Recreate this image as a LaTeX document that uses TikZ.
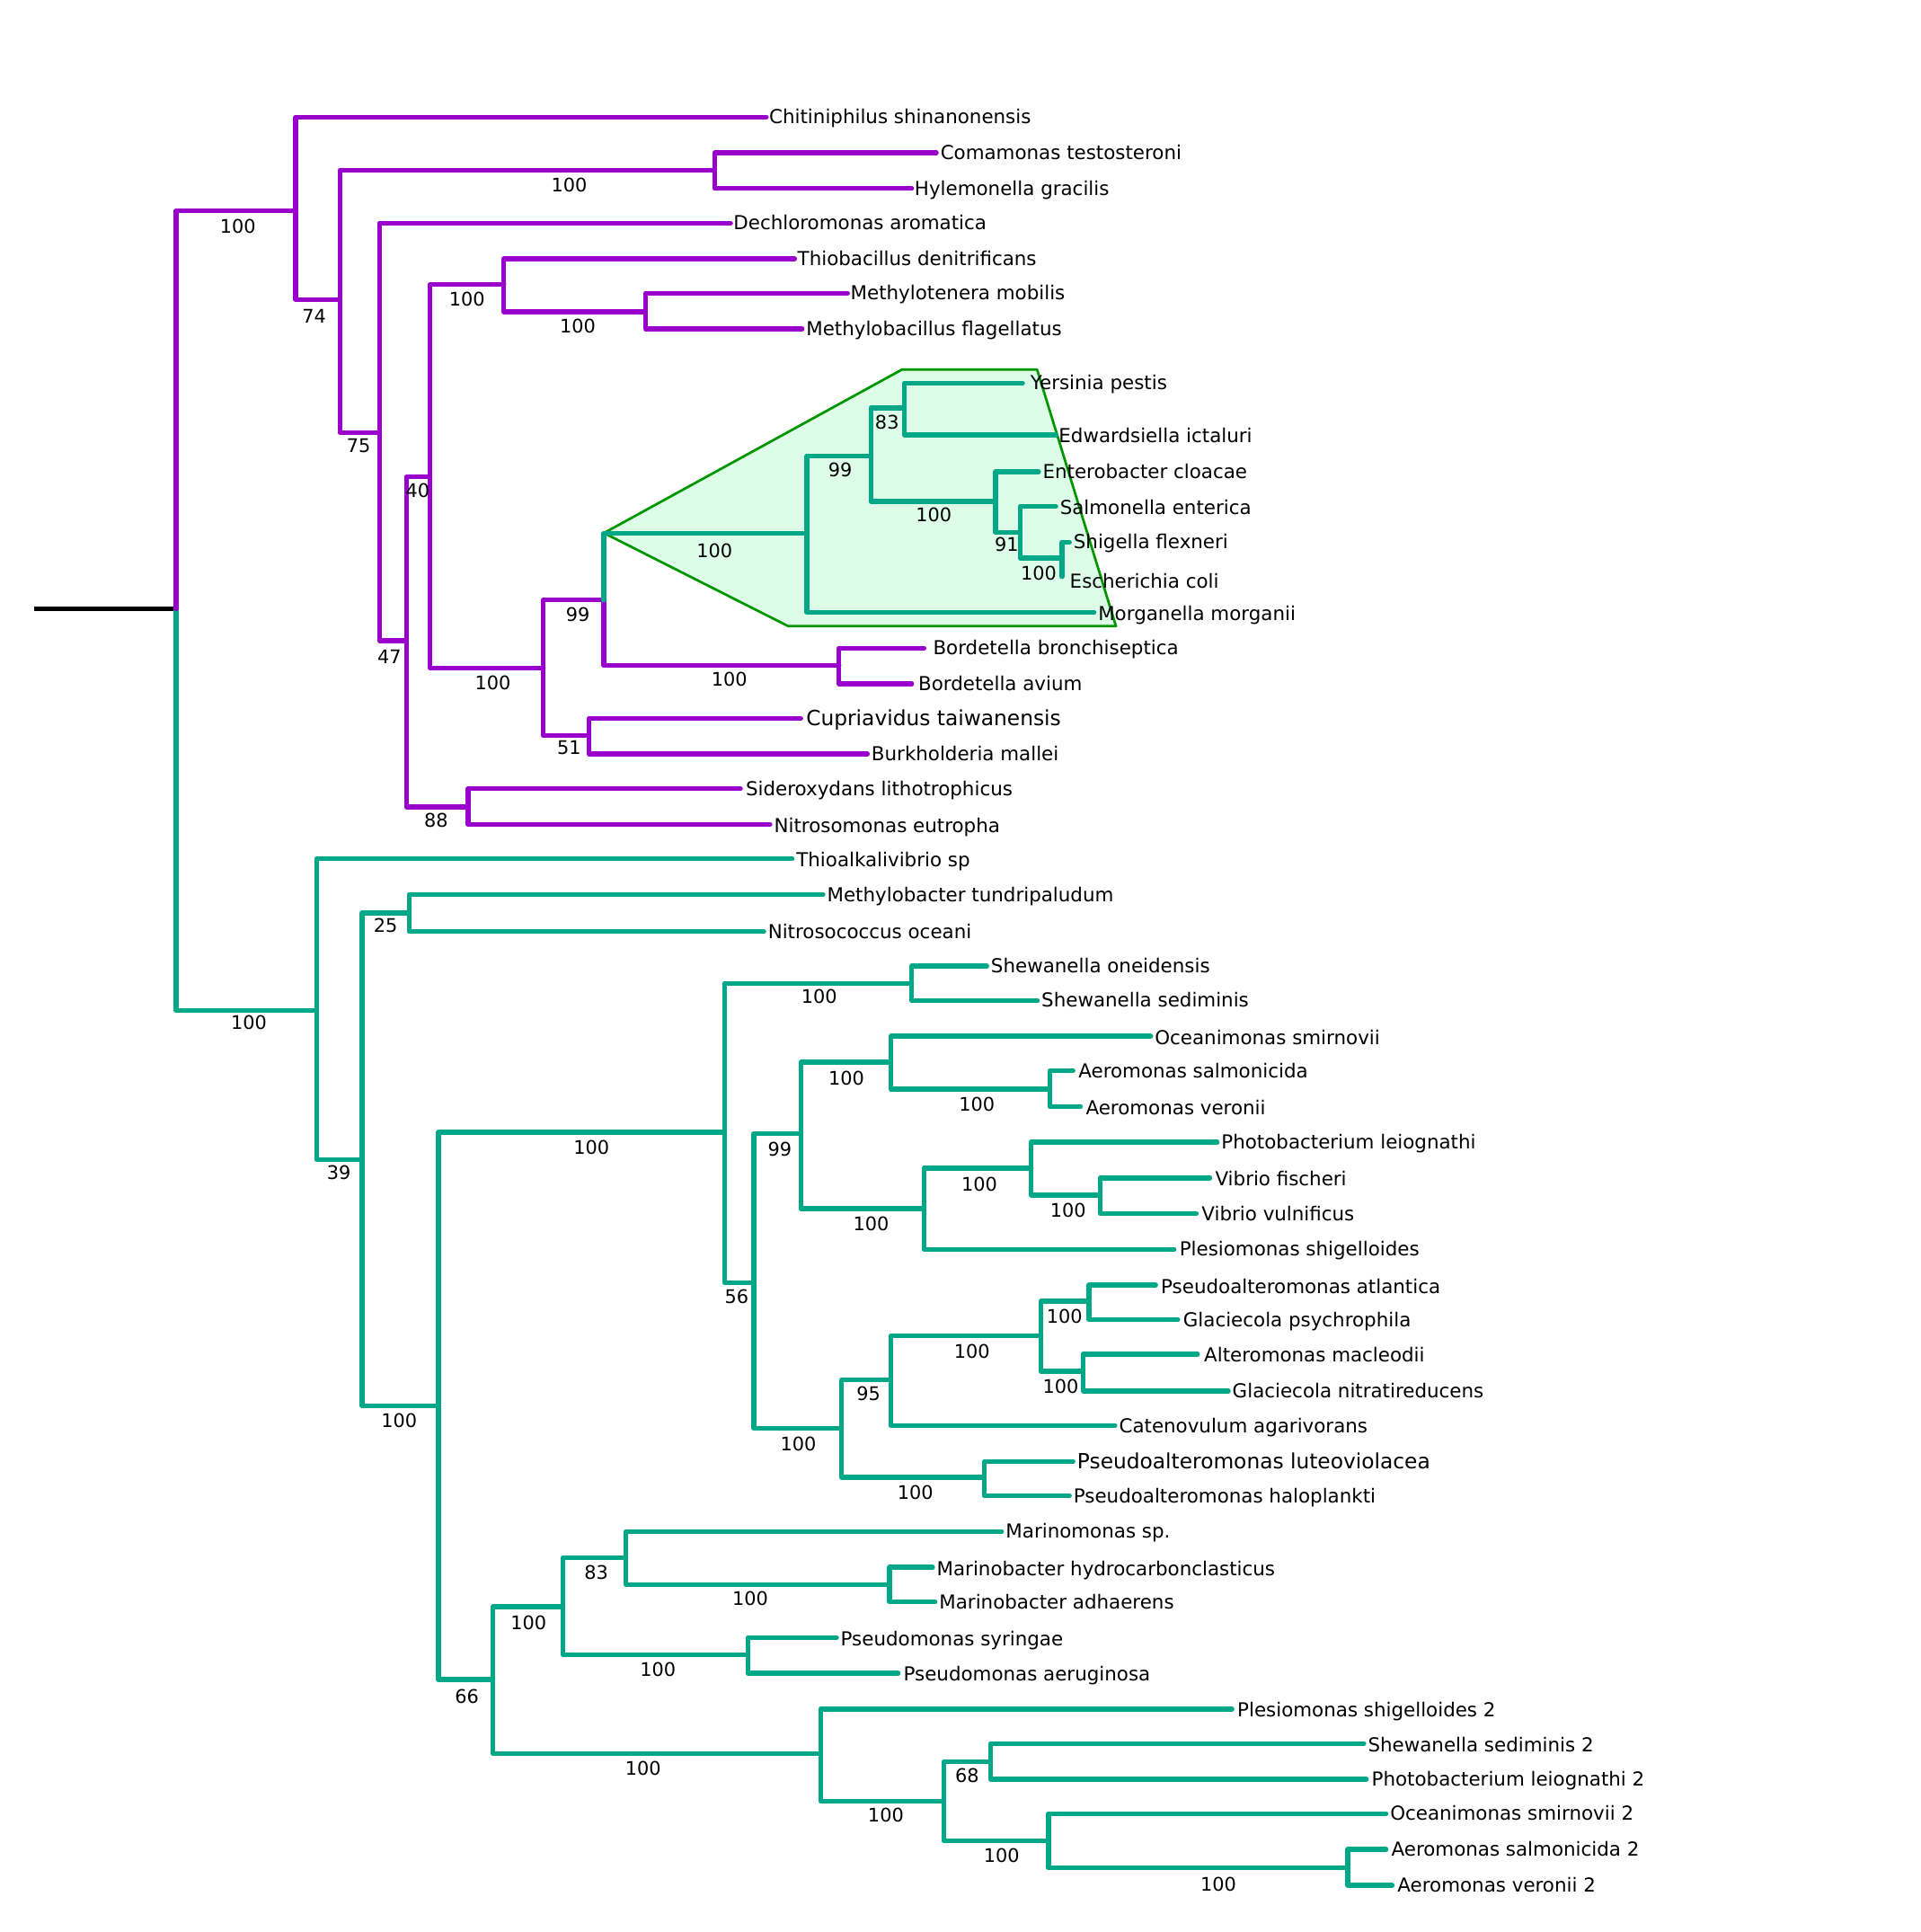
\documentclass[tikz,border=0pt]{standalone}
\usepackage{fontspec}
\setmainfont{DejaVu Sans}
\definecolor{pur}{RGB}{153,0,204}
\definecolor{tea}{RGB}{0,168,136}
\definecolor{hlfill}{RGB}{222,253,232}
\definecolor{hledge}{RGB}{0,150,0}
\begin{document}
\begin{tikzpicture}[x=0.5pt,y=-0.5pt,
 pb/.style={draw=pur,line width=1.95pt,line cap=round,line join=round},
 tb/.style={draw=tea,line width=1.95pt,line cap=round,line join=round},
 tip/.style={anchor=base west,inner sep=0pt,yshift=-2.75pt,font=\fontsize{7.8}{9}\selectfont},
 big/.style={anchor=base west,inner sep=0pt,yshift=-3pt,font=\fontsize{8.5}{10}\selectfont},
 bs/.style={anchor=center,inner sep=0pt,font=\fontsize{7.6}{9}\selectfont}]
\useasboundingbox (0,0) rectangle (1559,1568);
% highlight
\filldraw[fill=hlfill,draw=hledge,line width=1pt,line join=round]
  (490.2,432.6) -- (732,300) -- (841.8,300) -- (905.8,508.2) -- (639.8,508.2) -- cycle;
% ---------- coordinates ----------
\coordinate (root) at (143,494);
\coordinate (rootL) at (28,494);
\coordinate (P1) at (240,171);
\coordinate (Chit) at (622,95);
\coordinate (P2) at (276,243);
\coordinate (P3) at (580,138);
\coordinate (Coma) at (760,124);
\coordinate (Hyle) at (740,153);
\coordinate (P4) at (308,351);
\coordinate (Dech) at (593,181);
\coordinate (P5) at (330,520);
\coordinate (P6) at (349,387);
\coordinate (P7) at (409,231);
\coordinate (Thio) at (645,210);
\coordinate (P8) at (524,253);
\coordinate (Mlot) at (688,238);
\coordinate (Mbac) at (651,267);
\coordinate (P9) at (441,542);
\coordinate (P10) at (490,487);
\coordinate (E1) at (655,433);
\coordinate (E2) at (707,370);
\coordinate (E3) at (734,331);
\coordinate (Yers) at (830,311);
\coordinate (Edwa) at (857,353);
\coordinate (E4) at (808,407);
\coordinate (Ente) at (843,383);
\coordinate (E5) at (828,432);
\coordinate (Salm) at (857,411);
\coordinate (E6) at (862,453);
\coordinate (Shig) at (868,440);
\coordinate (Esch) at (862,468);
\coordinate (Morg) at (888,497);
\coordinate (P11) at (681,540);
\coordinate (Bbro) at (750,526);
\coordinate (Bavi) at (740,555);
\coordinate (P12) at (478,597);
\coordinate (Cupr) at (650,583);
\coordinate (Burk) at (704,612);
\coordinate (P13) at (380,655);
\coordinate (Side) at (601,640);
\coordinate (Nitm) at (625,669);
\coordinate (T1) at (257,820);
\coordinate (Thal) at (643,697);
\coordinate (T2) at (294,941);
\coordinate (T3) at (332,741);
\coordinate (Metb) at (668,726);
\coordinate (Nitc) at (620,756);
\coordinate (T4) at (356,1141);
\coordinate (T5) at (588,919);
\coordinate (T6) at (740,798);
\coordinate (Shon) at (801,784);
\coordinate (Shse) at (842,812);
\coordinate (T7) at (612,1041);
\coordinate (T8) at (650,920);
\coordinate (T9) at (723,862);
\coordinate (Ocsm) at (934,841);
\coordinate (T10) at (852,884);
\coordinate (Aesa) at (871,869);
\coordinate (Aeve) at (877,898);
\coordinate (T11) at (750,981);
\coordinate (T12) at (837,948);
\coordinate (Phle) at (988,927);
\coordinate (T13) at (893,970);
\coordinate (Vifi) at (982,956);
\coordinate (Vivu) at (971,985);
\coordinate (Plsh) at (953,1014);
\coordinate (T14) at (683,1159);
\coordinate (T15) at (723,1120);
\coordinate (T16) at (845,1084);
\coordinate (T17) at (884,1056);
\coordinate (Psat) at (938,1043);
\coordinate (Glps) at (956,1071);
\coordinate (T18) at (879,1113);
\coordinate (Alma) at (972,1099);
\coordinate (Glni) at (997,1129);
\coordinate (Cata) at (905,1157);
\coordinate (T19) at (799,1199);
\coordinate (Pslu) at (871,1186);
\coordinate (Psha) at (868,1214);
\coordinate (T20) at (400,1363);
\coordinate (T21) at (457,1304);
\coordinate (T22) at (508,1264);
\coordinate (Mari) at (813,1243);
\coordinate (T23) at (722,1286);
\coordinate (Mbhy) at (757,1272);
\coordinate (Mbad) at (759,1300);
\coordinate (T24) at (607,1343);
\coordinate (Pssy) at (679,1329);
\coordinate (Psae) at (729,1358);
\coordinate (T25) at (666,1423);
\coordinate (PlshB) at (1000,1387);
\coordinate (T26) at (766,1462);
\coordinate (T27) at (804,1430);
\coordinate (ShseB) at (1107,1415);
\coordinate (PhleB) at (1109,1444);
\coordinate (T28) at (851,1494);
\coordinate (OcsmB) at (1125,1472);
\coordinate (T29) at (1094,1516);
\coordinate (AesaB) at (1125,1501);
\coordinate (AeveB) at (1130,1530);
% ---------- branches ----------
\draw[black,line width=1.6pt] (rootL) -- (root);
\draw[tb] (root) |- (T1);
\draw[pb] (root) |- (P1);
\draw[pb] (P1) |- (Chit);
\draw[pb] (P1) |- (P2);
\draw[pb] (P2) |- (P3);
\draw[pb] (P3) |- (Coma);
\draw[pb] (P3) |- (Hyle);
\draw[pb] (P2) |- (P4);
\draw[pb] (P4) |- (Dech);
\draw[pb] (P4) |- (P5);
\draw[pb] (P5) |- (P6);
\draw[pb] (P6) |- (P7);
\draw[pb] (P7) |- (Thio);
\draw[pb] (P7) |- (P8);
\draw[pb] (P8) |- (Mlot);
\draw[pb] (P8) |- (Mbac);
\draw[pb] (P6) |- (P9);
\draw[pb] (P9) |- (P10);
\draw[pb] (P10) |- (P11);
\draw[pb] (P11) |- (Bbro);
\draw[pb] (P11) |- (Bavi);
\draw[pb] (P9) |- (P12);
\draw[pb] (P12) |- (Cupr);
\draw[pb] (P12) |- (Burk);
\draw[pb] (P5) |- (P13);
\draw[pb] (P13) |- (Side);
\draw[pb] (P13) |- (Nitm);
\draw[tb] (P10) |- (E1);
\draw[tb] (E1) |- (E2);
\draw[tb] (E2) |- (E3);
\draw[tb] (E3) |- (Yers);
\draw[tb] (E3) |- (Edwa);
\draw[tb] (E2) |- (E4);
\draw[tb] (E4) |- (Ente);
\draw[tb] (E4) |- (E5);
\draw[tb] (E5) |- (Salm);
\draw[tb] (E5) |- (E6);
\draw[tb] (E6) |- (Shig);
\draw[tb] (E6) |- (Esch);
\draw[tb] (E1) |- (Morg);
\draw[tb] (T1) |- (Thal);
\draw[tb] (T1) |- (T2);
\draw[tb] (T2) |- (T3);
\draw[tb] (T3) |- (Metb);
\draw[tb] (T3) |- (Nitc);
\draw[tb] (T2) |- (T4);
\draw[tb] (T4) |- (T5);
\draw[tb] (T5) |- (T6);
\draw[tb] (T6) |- (Shon);
\draw[tb] (T6) |- (Shse);
\draw[tb] (T5) |- (T7);
\draw[tb] (T7) |- (T8);
\draw[tb] (T8) |- (T9);
\draw[tb] (T9) |- (Ocsm);
\draw[tb] (T9) |- (T10);
\draw[tb] (T10) |- (Aesa);
\draw[tb] (T10) |- (Aeve);
\draw[tb] (T8) |- (T11);
\draw[tb] (T11) |- (T12);
\draw[tb] (T12) |- (Phle);
\draw[tb] (T12) |- (T13);
\draw[tb] (T13) |- (Vifi);
\draw[tb] (T13) |- (Vivu);
\draw[tb] (T11) |- (Plsh);
\draw[tb] (T7) |- (T14);
\draw[tb] (T14) |- (T15);
\draw[tb] (T15) |- (T16);
\draw[tb] (T16) |- (T17);
\draw[tb] (T17) |- (Psat);
\draw[tb] (T17) |- (Glps);
\draw[tb] (T16) |- (T18);
\draw[tb] (T18) |- (Alma);
\draw[tb] (T18) |- (Glni);
\draw[tb] (T15) |- (Cata);
\draw[tb] (T14) |- (T19);
\draw[tb] (T19) |- (Pslu);
\draw[tb] (T19) |- (Psha);
\draw[tb] (T4) |- (T20);
\draw[tb] (T20) |- (T21);
\draw[tb] (T21) |- (T22);
\draw[tb] (T22) |- (Mari);
\draw[tb] (T22) |- (T23);
\draw[tb] (T23) |- (Mbhy);
\draw[tb] (T23) |- (Mbad);
\draw[tb] (T21) |- (T24);
\draw[tb] (T24) |- (Pssy);
\draw[tb] (T24) |- (Psae);
\draw[tb] (T20) |- (T25);
\draw[tb] (T25) |- (PlshB);
\draw[tb] (T25) |- (T26);
\draw[tb] (T26) |- (T27);
\draw[tb] (T27) |- (ShseB);
\draw[tb] (T27) |- (PhleB);
\draw[tb] (T26) |- (T28);
\draw[tb] (T28) |- (OcsmB);
\draw[tb] (T28) |- (T29);
\draw[tb] (T29) |- (AesaB);
\draw[tb] (T29) |- (AeveB);
% ---------- tip labels ----------
\node[tip] (lChit) at (624,95) {Chitiniphilus shinanonensis};
\node[tip] (lComa) at (763,124) {Comamonas testosteroni};
\node[tip] (lHyle) at (742,153) {Hylemonella gracilis};
\node[tip] (lDech) at (595,181) {Dechloromonas aromatica};
\node[tip] (lThio) at (647,210) {Thiobacillus denitrificans};
\node[tip] (lMlot) at (690,238) {Methylotenera mobilis};
\node[tip] (lMbac) at (654,267) {Methylobacillus flagellatus};
\node[tip] (lYers) at (836,311) {Yersinia pestis};
\node[tip] (lEdwa) at (859,354) {Edwardsiella ictaluri};
\node[tip] (lEnte) at (846,383) {Enterobacter cloacae};
\node[tip] (lSalm) at (860,412) {Salmonella enterica};
\node[tip] (lShig) at (871,440) {Shigella flexneri};
\node[tip] (lEsch) at (868,472) {Escherichia coli};
\node[tip] (lMorg) at (891,498) {Morganella morganii};
\node[tip] (lBbro) at (757,526) {Bordetella bronchiseptica};
\node[tip] (lBavi) at (745,555) {Bordetella avium};
\node[big] (lCupr) at (654,583) {Cupriavidus taiwanensis};
\node[tip] (lBurk) at (707,612) {Burkholderia mallei};
\node[tip] (lSide) at (605,640) {Sideroxydans lithotrophicus};
\node[tip] (lNitm) at (628,670) {Nitrosomonas eutropha};
\node[tip] (lThal) at (646,698) {Thioalkalivibrio sp};
\node[tip] (lMetb) at (671,726) {Methylobacter tundripaludum};
\node[tip] (lNitc) at (623,756) {Nitrosococcus oceani};
\node[tip] (lShon) at (804,784) {Shewanella oneidensis};
\node[tip] (lShse) at (845,812) {Shewanella sediminis};
\node[tip] (lOcsm) at (937,842) {Oceanimonas smirnovii};
\node[tip] (lAesa) at (875,869) {Aeromonas salmonicida};
\node[tip] (lAeve) at (881,899) {Aeromonas veronii};
\node[tip] (lPhle) at (991,927) {Photobacterium leiognathi};
\node[tip] (lVifi) at (986,957) {Vibrio fischeri};
\node[tip] (lVivu) at (975,985) {Vibrio vulnificus};
\node[tip] (lPlsh) at (957,1014) {Plesiomonas shigelloides};
\node[tip] (lPsat) at (942,1044) {Pseudoalteromonas atlantica};
\node[tip] (lGlps) at (960,1071) {Glaciecola psychrophila};
\node[tip] (lAlma) at (977,1100) {Alteromonas macleodii};
\node[tip] (lGlni) at (1000,1129) {Glaciecola nitratireducens};
\node[tip] (lCata) at (908,1157) {Catenovulum agarivorans};
\node[big] (lPslu) at (874,1186) {Pseudoalteromonas luteoviolacea};
\node[tip] (lPsha) at (871,1214) {Pseudoalteromonas haloplankti};
\node[tip] (lMari) at (816,1243) {Marinomonas sp.};
\node[tip] (lMbhy) at (760,1273) {Marinobacter hydrocarbonclasticus};
\node[tip] (lMbad) at (762,1300) {Marinobacter adhaerens};
\node[tip] (lPssy) at (682,1330) {Pseudomonas syringae};
\node[tip] (lPsae) at (733,1359) {Pseudomonas aeruginosa};
\node[tip] (lPlshB) at (1004,1388) {Plesiomonas shigelloides 2};
\node[tip] (lShseB) at (1110,1416) {Shewanella sediminis 2};
\node[tip] (lPhleB) at (1113,1444) {Photobacterium leiognathi 2};
\node[tip] (lOcsmB) at (1128,1472) {Oceanimonas smirnovii 2};
\node[tip] (lAesaB) at (1129,1501) {Aeromonas salmonicida 2};
\node[tip] (lAeveB) at (1134,1530) {Aeromonas veronii 2};
% ---------- support values ----------
\node[bs] (sP1) at (193,184) {100};
\node[bs] (sP2) at (255,257) {74};
\node[bs] (sP3) at (462,150) {100};
\node[bs] (sP4) at (291,362) {75};
\node[bs] (sP5) at (316,533) {47};
\node[bs] (sP6) at (339,398) {40};
\node[bs] (sP7) at (379,243) {100};
\node[bs] (sP8) at (469,265) {100};
\node[bs] (sP9) at (400,554) {100};
\node[bs] (sP10) at (469,499) {99};
\node[bs] (sE1) at (580,447) {100};
\node[bs] (sE2) at (682,381) {99};
\node[bs] (sE3) at (720,343) {83};
\node[bs] (sE4) at (758,418) {100};
\node[bs] (sE5) at (817,442) {91};
\node[bs] (sE6) at (843,465) {100};
\node[bs] (sP11) at (592,551) {100};
\node[bs] (sP12) at (462,607) {51};
\node[bs] (sP13) at (354,666) {88};
\node[bs] (sT1) at (202,830) {100};
\node[bs] (sT2) at (275,952) {39};
\node[bs] (sT3) at (313,751) {25};
\node[bs] (sT4) at (324,1153) {100};
\node[bs] (sT5) at (480,931) {100};
\node[bs] (sT6) at (665,809) {100};
\node[bs] (sT7) at (598,1052) {56};
\node[bs] (sT8) at (633,933) {99};
\node[bs] (sT9) at (687,875) {100};
\node[bs] (sT10) at (793,896) {100};
\node[bs] (sT11) at (707,993) {100};
\node[bs] (sT12) at (795,961) {100};
\node[bs] (sT13) at (867,982) {100};
\node[bs] (sT14) at (648,1172) {100};
\node[bs] (sT15) at (705,1131) {95};
\node[bs] (sT16) at (789,1097) {100};
\node[bs] (sT17) at (864,1068) {100};
\node[bs] (sT18) at (861,1125) {100};
\node[bs] (sT19) at (743,1211) {100};
\node[bs] (sT20) at (379,1377) {66};
\node[bs] (sT21) at (429,1317) {100};
\node[bs] (sT22) at (484,1276) {83};
\node[bs] (sT23) at (609,1297) {100};
\node[bs] (sT24) at (534,1355) {100};
\node[bs] (sT25) at (522,1435) {100};
\node[bs] (sT26) at (719,1473) {100};
\node[bs] (sT27) at (785,1441) {68};
\node[bs] (sT28) at (813,1506) {100};
\node[bs] (sT29) at (989,1529) {100};
\end{tikzpicture}
\end{document}
